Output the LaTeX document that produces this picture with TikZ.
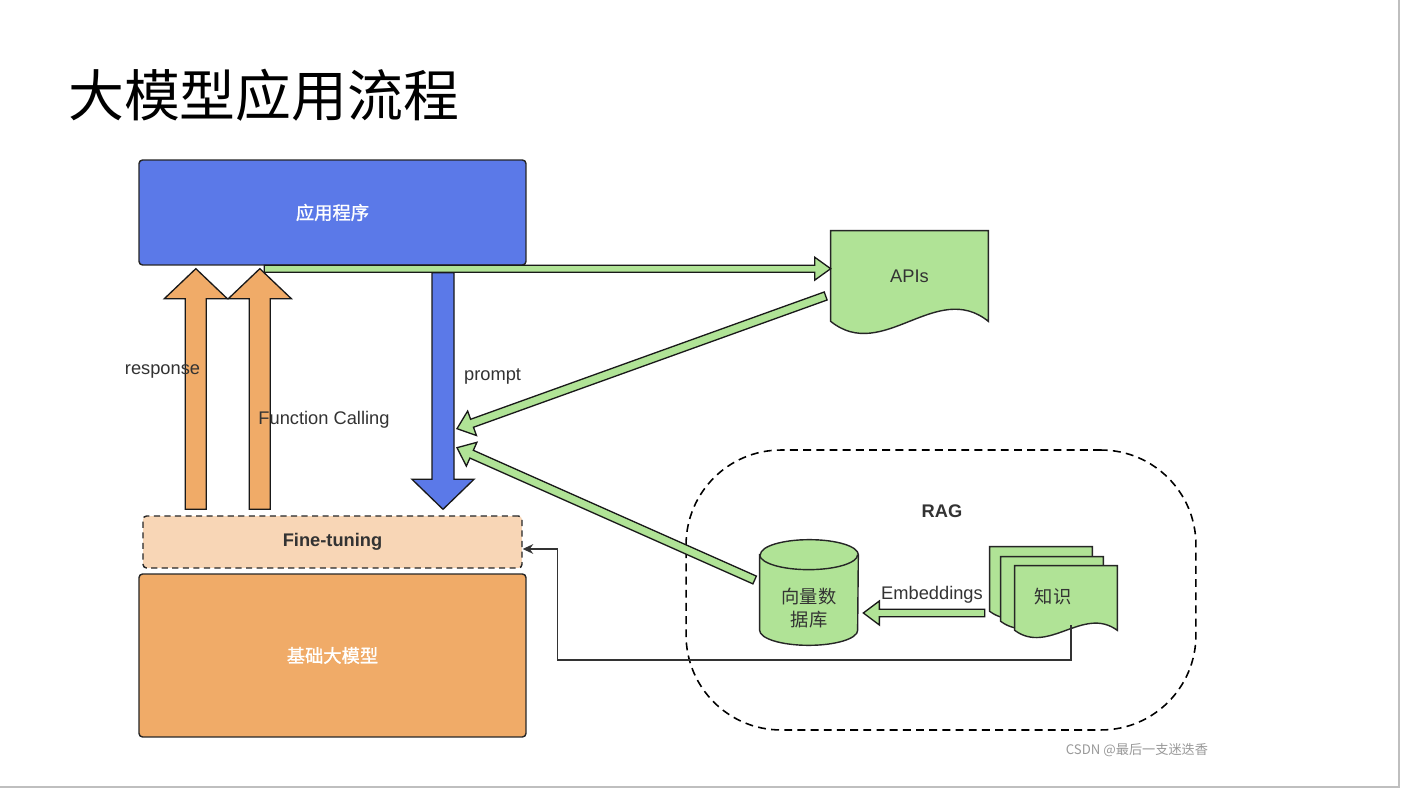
\documentclass[tikz,border=0pt]{standalone}
\usepackage{fontspec}
\setmainfont{Liberation Sans}
\newfontfamily\cjk{Noto Sans CJK SC}
\newfontfamily\cjkmid[FakeBold=1.2]{Noto Sans CJK SC}
\usetikzlibrary{calc,arrows.meta,backgrounds}

\definecolor{appblue}{RGB}{91,121,232}
\definecolor{apigreen}{RGB}{176,227,150}
\definecolor{basebrown}{RGB}{240,171,104}
\definecolor{tunepeach}{RGB}{248,214,182}
\definecolor{txtgray}{RGB}{51,51,51}

% style, from, to, half shaft, half head, head length
\newcommand\fatarrow[6]{%
  \coordinate (fabase) at ($(#3)!#6!(#2)$);
  \draw[#1] ($(#2)!#4!90:(#3)$) -- ($(fabase)!#4!90:(#3)$) -- ($(fabase)!#5!90:(#3)$)
    -- (#3) -- ($(fabase)!#5!-90:(#3)$) -- ($(fabase)!#4!-90:(#3)$)
    -- ($(#2)!#4!-90:(#3)$) -- cycle;}
% node, wave dx, wave dy, style
\newcommand\docshape[4]{%
  \draw[#4] (#1.north west) -- (#1.north east) -- (#1.south east)
    .. controls +(-#2,-#3) and +(#2,#3) .. (#1.south west) -- cycle;}

\begin{document}
\begin{tikzpicture}[x=0.02cm, y=-0.02cm, >={Stealth[length=6pt,width=5.5pt]},
	box/.style={draw=black!85, line width=0.8pt, rounded corners=2pt, inner sep=0pt},
	lbl/.style={text=txtgray, font=\fontsize{10.4}{12.5}\selectfont},
	blbl/.style={text=txtgray, font=\bfseries\fontsize{10.4}{12.5}\selectfont},
	clbl/.style={font=\cjk\fontsize{10.4}{13}\selectfont, align=center},
	mlbl/.style={font=\cjkmid\fontsize{10.4}{13}\selectfont, text=white},
	sheet/.style={inner sep=0pt, minimum width=2.04cm, minimum height=1.28cm},
	docfill/.style={fill=apigreen, draw=black!85, line width=0.8pt},
	fat/.style={draw=black!90, line width=0.75pt, line join=miter},
	greenarrow/.style={fat, fill=apigreen},
	bluearrow/.style={fat, fill=appblue},
	orangearrow/.style={fat, fill=basebrown}]

\useasboundingbox (0,0) rectangle (1401,790);

\node[anchor=west, font=\cjk\fontsize{31.8}{36}\selectfont] (title) at (62,95) {大模型应用流程};

\node[box, fill=appblue, minimum width=7.74cm, minimum height=2.1cm, mlbl] (app) at (332.5,212.5) {应用程序};
\node[box, dashed, dash pattern=on 3.5pt off 2.5pt, fill=tunepeach, blbl,
	minimum width=7.58cm, minimum height=1.04cm] (ft) at (332.5,542) {Fine-tuning};
\node[box, fill=basebrown, minimum width=7.74cm, minimum height=3.26cm, mlbl] (base) at (332.5,655.5) {基础大模型};

\node[lbl, inner sep=0pt, minimum width=3.14cm, minimum height=1.8cm] (apis) at (909.5,276) {APIs};

\node[draw, dashed, dash pattern=on 4.5pt off 3pt, line width=0.9pt, rounded corners=1.9cm,
	minimum width=10.2cm, minimum height=5.6cm] (rag) at (941,590) {};
\node[blbl] (ragtitle) at (942,511) {RAG};

\node[inner sep=0pt, minimum width=1.96cm, minimum height=2.1cm] (db) at (809,592.5) {};
\node[sheet] (kn3) at (1041,579) {};
\node[sheet] (kn2) at (1052,589) {};
\node[sheet] (kn) at (1066,598) {};

\begin{scope}[on background layer]
\fill[white] (0,0) rectangle (1401,790);
\docshape{apis}{52}{42}{docfill}
\draw[docfill] ($(db.north west)+(0,15)$) -- ($(db.south west)+(0,-15)$)
	arc (180:360:0.98cm and 0.3cm) -- ($(db.north east)+(0,15)$)
	arc (0:180:0.98cm and 0.3cm) -- cycle;
\draw[black!85, line width=0.8pt] ($(db.north west)+(0,15)$) arc (180:360:0.98cm and 0.3cm);
\docshape{kn3}{34}{25}{docfill}
\docshape{kn2}{34}{25}{docfill}
\docshape{kn}{34}{25}{docfill}
\end{scope}

\node[clbl, text=txtgray] (dbtext) at (809,608) {向量数\\据库};
\node[clbl, text=txtgray] (kntext) at (1053,597) {知识};

\coordinate (appout) at ($(app.south west)+(126,3)$);
\coordinate (apisin) at (apis.west |- appout);
\coordinate (promptA) at ($(app.south)+(110.5,7)$);
\coordinate (promptB) at ($(ft.north)+(110.5,-6)$);
\coordinate (respA) at ($(ft.north west)+(53.5,-6)$);
\coordinate (respB) at ($(app.south west)+(57.5,3)$);
\coordinate (fcA) at ($(ft.north west)+(117.5,-6)$);
\coordinate (fcB) at ($(app.south west)+(121.5,3)$);
\coordinate (apisout) at ($(apis.west)+(-5,20)$);
\coordinate (pin1) at ($(promptA)+(14,156)$);
\coordinate (dbout) at ($(db.west)+(-5,-12.5)$);
\coordinate (pin2) at ($(promptA)+(14,175)$);
\coordinate (knout) at ($(kn3.west)+(-5,34)$);
\coordinate (dbin) at ($(db.east)+(5,20.5)$);
\coordinate (kndown) at ($(kn.south)+(5,-5)$);
\coordinate (bend) at ($(ft.east)+(35,118)$);
\coordinate (ftin) at ($(ft.east)+(0,7)$);

\fatarrow{orangearrow}{respA}{respB}{0.21cm}{0.63cm}{0.6cm}
\fatarrow{orangearrow}{fcA}{fcB}{0.21cm}{0.63cm}{0.6cm}
\fatarrow{greenarrow}{appout}{apisin}{0.07cm}{0.23cm}{0.32cm}
\fatarrow{bluearrow}{promptA}{promptB}{0.22cm}{0.62cm}{0.6cm}
\fatarrow{greenarrow}{apisout}{pin1}{0.085cm}{0.26cm}{0.32cm}
\fatarrow{greenarrow}{dbout}{pin2}{0.085cm}{0.26cm}{0.32cm}
\fatarrow{greenarrow}{knout}{dbin}{0.075cm}{0.24cm}{0.32cm}

\draw[->, draw=txtgray, line width=0.8pt] (kndown) |- (bend) |- (ftin);

\node[lbl, anchor=west] (prompttext) at (458,376) {prompt};
\node[lbl] (resptext) at (162.5,371) {response};
\node[lbl] (fctext) at (324,420) {Function Calling};
\node[lbl] (embtext) at (932,595) {Embeddings};

\node[font=\cjk\fontsize{7.5}{9}\selectfont, text=black!40] (mark) at (1137,750) {CSDN @最后一支迷迭香};
\draw[black!25, line width=1pt] (0,787) -- (1399,787) -- (1399,0);
\end{tikzpicture}
\end{document}
